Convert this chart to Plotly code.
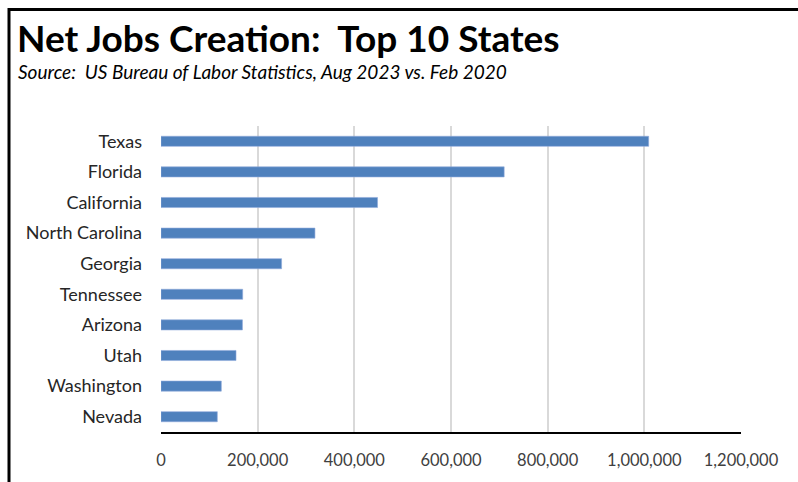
import plotly.graph_objects as go

# Net jobs gained, Aug 2023 vs. Feb 2020
states = ["Texas", "Florida", "California", "North Carolina", "Georgia",
          "Tennessee", "Arizona", "Utah", "Washington", "Nevada"]
net_jobs = [1009000, 710000, 448000, 318500, 249500,
            169000, 168500, 155200, 124800, 116500]
x_ticks = [0, 200000, 400000, 600000, 800000, 1000000, 1200000]

W, H = 798, 482
L, R, T, B = 161, 57, 126, 46
plot_w = W - L - R
plot_h = H - T - B


def px_x(x):
    return (x - L) / plot_w


def px_y(y):
    return (H - B - y) / plot_h


fig = go.Figure(go.Bar(
    x=net_jobs,
    y=states,
    orientation="h",
    marker=dict(color="#4F81BD", line=dict(color="#8EAADB", width=0.6)),
    width=0.33,
    hoverinfo="x+y",
))

fig.update_layout(
    width=W, height=H,
    margin=dict(l=L, r=R, t=T, b=B, pad=0),
    paper_bgcolor="white",
    plot_bgcolor="white",
    showlegend=False,
    font=dict(family="Lato", size=16, color="#404040"),
    xaxis=dict(
        range=[0, 1200000],
        tickvals=x_ticks,
        tickformat=",",
        showgrid=True,
        gridcolor="#D9D9D9",
        gridwidth=1.5,
        zeroline=False,
        showline=True,
        linecolor="#000000",
        linewidth=2,
        ticks="",
        ticklabelstandoff=12,
        tickfont=dict(size=16.5, color="#404040"),
    ),
    yaxis=dict(
        autorange="reversed",
        showgrid=False,
        zeroline=False,
        showline=False,
        ticks="",
        ticklabelstandoff=18,
        tickfont=dict(size=18, color="#262626"),
    ),
    annotations=[
        dict(text="<b>Net Jobs Creation:  Top 10 States</b>",
             xref="paper", yref="paper", x=px_x(15), y=px_y(36),
             xanchor="left", yanchor="middle", showarrow=False,
             font=dict(family="Lato", size=37, color="#000000")),
        dict(text="<i>Source:  US Bureau of Labor Statistics, Aug 2023 vs. Feb 2020</i>",
             xref="paper", yref="paper", x=px_x(16), y=px_y(71),
             xanchor="left", yanchor="middle", showarrow=False,
             font=dict(family="Lato", size=19, color="#000000")),
    ],
    shapes=[
        # frame around the chart, running off the right and bottom edges
        dict(type="rect", xref="paper", yref="paper",
             x0=px_x(9), x1=px_x(W + 20), y0=px_y(H + 20), y1=px_y(8),
             line=dict(color="#000000", width=3), fillcolor="rgba(0,0,0,0)",
             layer="above"),
    ],
)

fig.write_html("out.html")
